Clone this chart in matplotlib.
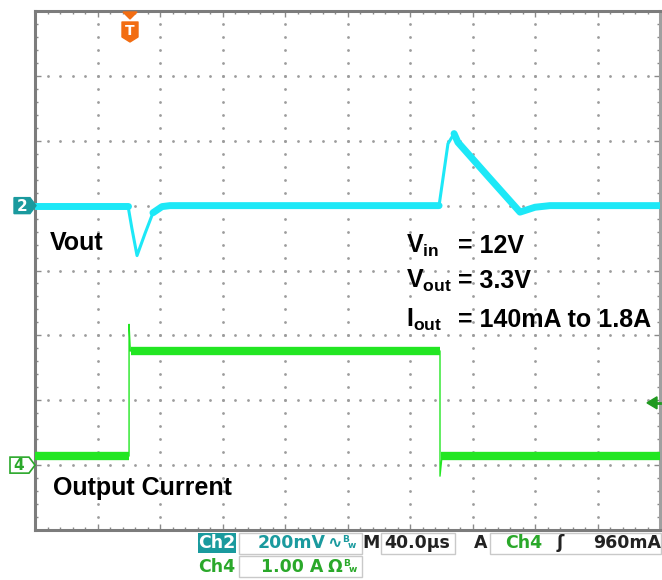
import matplotlib
matplotlib.use("Agg")
import numpy as np
import matplotlib.pyplot as plt
import matplotlib.transforms as mtransforms
from matplotlib.patches import Polygon, Rectangle

# ---- scope settings ----
time_per_div = 40.0     # us / div
ch2_scale = 200.0       # mV / div
ch4_scale = 1.0         # A / div
ch2_offset = 1.0        # div (marker "2")
ch4_offset = -3.0       # div (marker "4")

# ---- Ch2: Vout ac-coupled deviation (time us, mV) ----
vout_t = [0, 59.5, 62.0, 65.3, 70.4, 75.5, 81.3, 86.4,
          258.6, 264.3, 268.2, 270.7, 290.0, 310.4, 320.0, 329.6, 400]
vout_mv = [0, 0, -70, -154, -86, -22, -3, 0,
           0, 191, 222, 195, 90, -20, -5, 0, 0]
# slow (thick, noisy-looking) parts of the trace: (start us, end us)
vout_thick = [(0, 59.5), (75.0, 258.6), (268.0, 400)]

# ---- Ch4: output current (time us, A) ----
iout_t = [0, 60.2, 60.2, 61.0, 62.7, 259.2, 259.2, 260.5, 262.0, 400]
iout_a = [0.14, 0.14, 2.17, 1.76, 1.76, 1.76, -0.17, 0.14, 0.14, 0.14]
# settled plateaus (start us, end us, A)
iout_levels = [(0, 60.2, 0.14), (61.5, 259.2, 1.76), (260.0, 400, 0.14)]

trigger_t = 60.8        # us
trigger_level = 0.96    # A

# ---- text ----
ch2_label = "Vout"
ch4_label = "Output Current"
cond_names = [r"$\mathdefault{V_{in}}$", r"$\mathdefault{V_{out}}$", r"$\mathdefault{I_{out}}$"]
cond_values = ["= 12V", "= 3.3V", "= 140mA to 1.8A"]

CYAN = "#1de8f7"
GREEN = "#22e622"
TEAL = "#1a9a9e"
TXT_GREEN = "#2aa82a"
ORANGE = "#f26d12"

W, H = 662, 580
plt.rcParams["mathtext.fontset"] = "custom"
plt.rcParams["mathtext.rm"] = "Liberation Sans:bold"
plt.rcParams["mathtext.it"] = "Liberation Sans:bold"
plt.rcParams["mathtext.bf"] = "Liberation Sans:bold"

fig = plt.figure(figsize=(W / 100, H / 100), dpi=100)
fig.patch.set_facecolor("white")
# pixel coordinates, origin top-left
pix = mtransforms.Affine2D().scale(1 / W, -1 / H).translate(0, 1) + fig.transFigure

left, right, top, bottom = 35, 660, 11, 530
ax = fig.add_axes([left / W, 1 - bottom / H, (right - left) / W, (bottom - top) / H])
ax.set_xlim(0, 10)
ax.set_ylim(-4, 4)

# graticule dots
for gx in range(1, 10):
    yy = np.arange(-4, 4.01, 0.2)
    ax.plot(np.full_like(yy, gx), yy, ls="none", marker="o", ms=2.0, color="#9c9c9c", mew=0, zorder=1)
for gy in range(-3, 4):
    xx = np.arange(0, 10.01, 0.2)
    ax.plot(xx, np.full_like(xx, gy), ls="none", marker="o", ms=2.0, color="#9c9c9c", mew=0, zorder=1)

ax.set_xticks(np.arange(0, 10.01, 1))
ax.set_yticks(np.arange(-4, 4.01, 1))
ax.set_xticks(np.arange(0, 10.01, 0.2), minor=True)
ax.set_yticks(np.arange(-4, 4.01, 0.2), minor=True)
ax.tick_params(which="both", direction="in", top=True, right=True,
               labelbottom=False, labelleft=False, color="#8a8a8a", width=1)
ax.tick_params(which="major", length=4)
ax.tick_params(which="minor", length=2.5)
for s in ax.spines.values():
    s.set_color("#7c7c7c")
    s.set_linewidth(2.2)
ax.spines["right"].set_color("#a0a0a0")

# Ch2 trace: thin fast edges + thick slow parts
vt = np.array(vout_t)
vx = vt / time_per_div
vy = np.array(vout_mv) / ch2_scale + ch2_offset
ax.plot(vx, vy, color=CYAN, lw=2.2, solid_joinstyle="round", zorder=3)
for t0, t1 in vout_thick:
    m = (vt >= t0) & (vt <= t1)
    ax.plot(vx[m], vy[m], color=CYAN, lw=5.0, solid_joinstyle="round",
            solid_capstyle="round", zorder=3)

# Ch4 trace: thin edges + thick settled plateaus
ix = np.array(iout_t) / time_per_div
iy = np.array(iout_a) / ch4_scale + ch4_offset
ax.plot(ix, iy, color=GREEN, lw=1.0, zorder=3)
for t0, t1, a in iout_levels:
    ax.plot([t0 / time_per_div, t1 / time_per_div], [a + ch4_offset] * 2,
            color=GREEN, lw=6.0, solid_capstyle="butt", zorder=3)


def ypix(div):
    return top + (4 - div) * (bottom - top) / 8.0


def xpix(div):
    return left + div * (right - left) / 10.0


# channel markers
y2 = ypix(ch2_offset)
fig.add_artist(Polygon([(14, y2 - 8), (30, y2 - 8), (36, y2), (30, y2 + 8), (14, y2 + 8)],
                       closed=True, transform=pix, fc=TEAL, ec=TEAL, lw=1))
fig.text(22, y2 + 0.5, "2", transform=pix, color="white", fontsize=11, fontweight="bold",
         ha="center", va="center")
y4 = ypix(ch4_offset)
fig.add_artist(Polygon([(10, y4 - 8), (29, y4 - 8), (35, y4), (29, y4 + 8), (10, y4 + 8)],
                       closed=True, transform=pix, fc="white", ec=TXT_GREEN, lw=1.2))
fig.text(19, y4 + 0.5, "4", transform=pix, color=TXT_GREEN, fontsize=11, fontweight="bold",
         ha="center", va="center")

# trigger position marker
tx = xpix(trigger_t / time_per_div)
fig.add_artist(Polygon([(tx - 7, 12), (tx + 7, 12), (tx, 19)], closed=True, transform=pix,
                       fc=ORANGE, ec=ORANGE, lw=1))
fig.add_artist(Polygon([(tx - 8, 22), (tx + 8, 22), (tx + 8, 37), (tx, 42), (tx - 8, 37)],
                       closed=True, transform=pix, fc=ORANGE, ec=ORANGE, lw=1, joinstyle="round"))
fig.text(tx, 31, "T", transform=pix, color="white", fontsize=10, fontweight="bold",
         ha="center", va="center")

# trigger level marker
ty = ypix(trigger_level / ch4_scale + ch4_offset)
fig.add_artist(Polygon([(647, ty), (657, ty - 6), (657, ty + 6)], closed=True, transform=pix,
                       fc="#1f9a1f", ec="#1f9a1f", lw=1))
fig.add_artist(plt.Line2D([656, 660], [ty, ty], transform=pix, color="#1f9a1f", lw=2))

# labels
lab = dict(transform=pix, fontsize=18, fontweight="bold", family="Liberation Sans",
           color="black", va="baseline", ha="left")
fig.text(50, 250, ch2_label, **lab)
fig.text(53, 495, ch4_label, **lab)
for name, val, yb in zip(cond_names, cond_values, [253, 288, 327]):
    fig.text(406, yb, name, **lab)
    fig.text(458, yb, val, **lab)

# status bar
st = dict(transform=pix, fontsize=12.5, fontweight="bold", family="DejaVu Sans", va="center")
box = dict(transform=pix, fill=False, ec="#c9c9c9", lw=1)
fig.add_artist(Rectangle((239, 533), 123, 21, **box))
fig.add_artist(Rectangle((239, 556), 123, 21, **box))
fig.add_artist(Rectangle((381, 533), 74, 21, **box))
fig.add_artist(Rectangle((490, 533), 171, 21, **box))
fig.add_artist(Rectangle((198, 533), 38, 20, transform=pix, fc=TEAL, ec=TEAL, lw=0))

r1, r2 = 543, 567
sm = dict(transform=pix, fontsize=6.5, fontweight="bold", va="center", ha="left")
fig.text(217, r1, "Ch2", color="white", ha="center", **st)
fig.text(258, r1, f"{ch2_scale:.0f}mV", color=TEAL, ha="left", **st)
fig.text(327, r1, "∿", color=TEAL, ha="left", **st)
fig.text(342, r1 - 4, "B", color=TEAL, **sm)
fig.text(348, r1 + 3, "w", color=TEAL, **sm)
fig.text(362, r1, "M", color="#222222", ha="left", **st)
fig.text(384, r1, f"{time_per_div:.1f}µs", color="#222222", ha="left", **st)
fig.text(474, r1, "A", color="#222222", ha="left", **st)
fig.text(505, r1, "Ch4", color=TXT_GREEN, ha="left", **st)
fig.text(557, r1, "ʃ", color="#222222", ha="left", **st)
fig.text(661, r1, f"{trigger_level * 1000:.0f}mA", color="#222222", ha="right", **st)
fig.text(198, r2, "Ch4", color=TXT_GREEN, ha="left", **st)
fig.text(261, r2, f"{ch4_scale:.2f} A", color=TXT_GREEN, ha="left", **st)
fig.text(328, r2, "Ω", color=TXT_GREEN, ha="left", **st)
fig.text(343, r2 - 4, "B", color=TXT_GREEN, **sm)
fig.text(349, r2 + 3, "w", color=TXT_GREEN, **sm)

fig.savefig("out.png", dpi=100)
